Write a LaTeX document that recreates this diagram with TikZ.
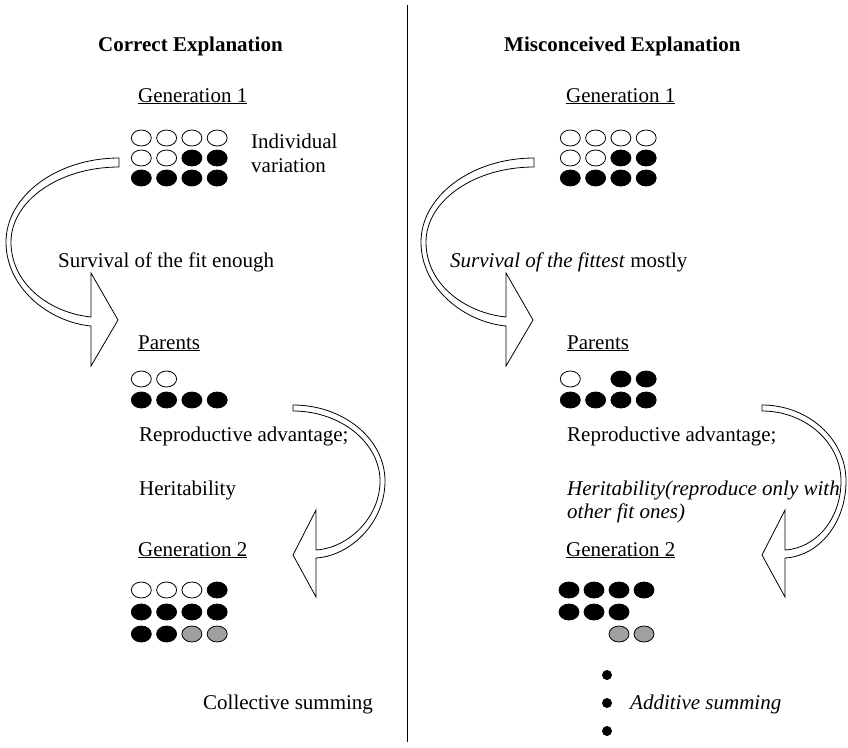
\documentclass[tikz,border=0pt]{standalone}
\usepackage{fontspec}
\setmainfont{Liberation Serif}
\usepackage{tikz}
\usetikzlibrary{positioning,shapes.geometric}
\definecolor{dotgray}{RGB}{160,160,160}
\tikzset{
  lbl/.style={anchor=base west,inner sep=0pt},
  hdr/.style={anchor=base west,inner sep=0pt,font=\fontsize{21}{25}\selectfont\bfseries},
  wdot/.style={ellipse,draw,line width=0.8pt,fill=white,minimum width=20pt,minimum height=16pt,inner sep=0pt},
  bdot/.style={wdot,fill=black},
  gdot/.style={wdot,fill=dotgray},
  sdot/.style={circle,fill=black,minimum size=10pt,inner sep=0pt},
  barrow/.style={draw,fill=white,line width=0.8pt,line join=miter},
}
% curved block arrows: #1 = x of the tail
\newcommand\selarrow[1]{%
  \path[barrow] (#1,158) .. controls ({#1-62},158) and ({#1-113},196) .. ({#1-113},242)
    .. controls ({#1-113},288) and ({#1-70},322) .. ({#1-28},326)
    -- ({#1-28},366) -- ({#1-1},320) -- ({#1-28},273) -- ({#1-28},317)
    .. controls ({#1-68},313) and ({#1-108},285) .. ({#1-108},242)
    .. controls ({#1-108},201) and ({#1-60},167) .. (#1,167) -- cycle;}
% #1 = x of the tail, #2 = how far the bend goes out
\newcommand\breedarrow[2]{%
  \path[barrow] (#1,405) .. controls ({#1+0.55*#2},405) and ({#1+#2},439) .. ({#1+#2},481)
    .. controls ({#1+#2},523) and ({#1+57},556) .. ({#1+23},558)
    -- ({#1+23},597) -- (#1,555) -- ({#1+23},510) -- ({#1+23},550)
    .. controls ({#1+55},548) and ({#1+#2-5},518) .. ({#1+#2-5},481)
    .. controls ({#1+#2-5},443) and ({#1+0.52*#2},411) .. (#1,411) -- cycle;}

\begin{document}
\begin{tikzpicture}[x=1pt,y=-1pt,font=\fontsize{21}{25}\selectfont]
  \useasboundingbox (0,0) rectangle (848,747);

  % divider
  \coordinate (top) at (407,5);
  \coordinate (bot) at (407,742);
  \draw[line width=0.9pt] (top) -- (bot);

  % arrows
  \selarrow{119}
  \selarrow{534}
  \breedarrow{293}{92}
  \breedarrow{762}{84}

  % correct explanation
  \node[hdr] (lh) at (98,51) {Correct Explanation};
  \node[lbl] (lg1) at (138,102) {\underline{Generation 1}};
  \foreach \st [count=\i] in {wdot,wdot,wdot,wdot} \node[\st] (la\i) at ({116+25.3*\i},138) {};
  \foreach \st [count=\i] in {wdot,wdot,bdot,bdot} \node[\st] (lb\i) at ({116+25.3*\i},158) {};
  \foreach \st [count=\i] in {bdot,bdot,bdot,bdot} \node[\st] (lc\i) at ({116+25.3*\i},178) {};
  \node[lbl] (liv) at (251,148) {Individual};
  \node[lbl] (liv2) at (251,172) {variation};
  \node[lbl] (lsv) at (58,267) {Survival of the fit enough};
  \node[lbl] (lpa) at (138,349) {\underline{Parents}};
  \foreach \st [count=\i] in {wdot,wdot} \node[\st] (lp\i) at ({116+25.3*\i},379) {};
  \foreach \st [count=\i] in {bdot,bdot,bdot,bdot} \node[\st] (lq\i) at ({116+25.3*\i},400) {};
  \node[lbl] (lra) at (139,441) {Reproductive advantage;};
  \node[lbl] (lhe) at (139,495) {Heritability};
  \node[lbl] (lg2) at (138,556) {\underline{Generation 2}};
  \foreach \st [count=\i] in {wdot,wdot,wdot,bdot} \node[\st] (ld\i) at ({116+25.3*\i},590) {};
  \foreach \st [count=\i] in {bdot,bdot,bdot,bdot} \node[\st] (le\i) at ({116+25.3*\i},612) {};
  \foreach \st [count=\i] in {bdot,bdot,gdot,gdot} \node[\st] (lf\i) at ({116+25.3*\i},634) {};
  \node[lbl] (lcs) at (203,709) {Collective summing};

  % misconceived explanation
  \node[hdr] (rh) at (504,51) {Misconceived Explanation};
  \node[lbl] (rg1) at (566,102) {\underline{Generation 1}};
  \foreach \st [count=\i] in {wdot,wdot,wdot,wdot} \node[\st] (ra\i) at ({545+25.3*\i},138) {};
  \foreach \st [count=\i] in {wdot,wdot,bdot,bdot} \node[\st] (rb\i) at ({545+25.3*\i},158) {};
  \foreach \st [count=\i] in {bdot,bdot,bdot,bdot} \node[\st] (rc\i) at ({545+25.3*\i},178) {};
  \node[lbl] (rsv) at (450,267) {\textit{Survival of the fittest} mostly};
  \node[lbl] (rpa) at (567,349) {\underline{Parents}};
  \foreach \c/\st in {1/wdot,3/bdot,4/bdot} \node[\st] (rp\c) at ({545+25.3*\c},379) {};
  \foreach \st [count=\i] in {bdot,bdot,bdot,bdot} \node[\st] (rq\i) at ({545+25.3*\i},400) {};
  \node[lbl] (rra) at (567,441) {Reproductive advantage;};
  \node[lbl] (rhe) at (567,495) {\textit{Heritability(reproduce only with}};
  \node[lbl] (rhe2) at (567,518) {\textit{other fit ones)}};
  \node[lbl] (rg2) at (566,556) {\underline{Generation 2}};
  \foreach \st [count=\i] in {bdot,bdot,bdot,bdot} \node[\st] (rd\i) at ({544+25*\i},590) {};
  \foreach \st [count=\i] in {bdot,bdot,bdot} \node[\st] (re\i) at ({544+25*\i},612) {};
  \foreach \c in {3,4} \node[gdot] (rf\c) at ({544+25*\c},634) {};
  \foreach \r/\yy in {1/675,2/703,3/731} \node[sdot] (rs\r) at (607,\yy) {};
  \node[lbl] (ras) at (630,709) {\textit{Additive summing}};
\end{tikzpicture}
\end{document}
